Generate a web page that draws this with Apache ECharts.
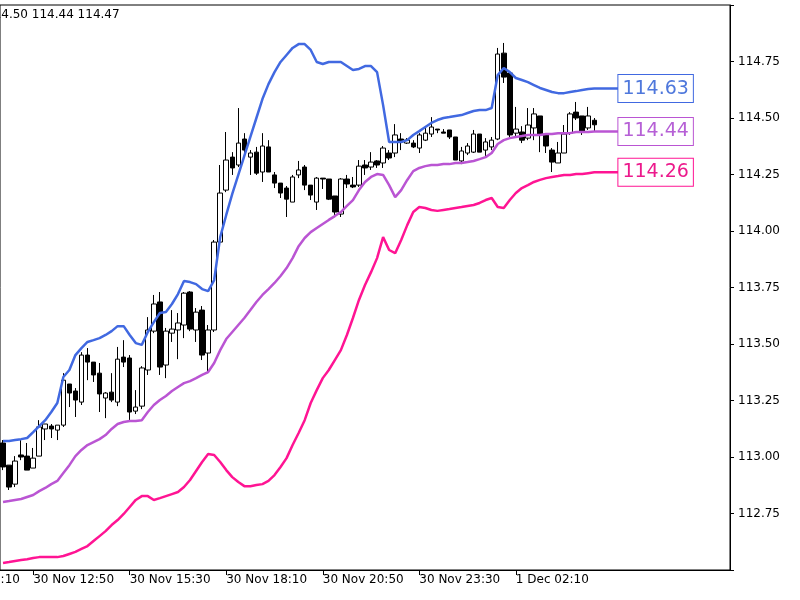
<!DOCTYPE html>
<html><head><meta charset="utf-8">
<script src="https://cdn.jsdelivr.net/npm/echarts@6/dist/echarts.min.js"></script>
<style>html,body{margin:0;padding:0;background:#fff}#c{width:800px;height:600px}</style>
</head><body><div id="c"></div>
<script>
// [open, close, low, high]
const ohlc = [
[113.062,112.956,112.942,113.075],[112.964,112.867,112.854,112.964],[112.880,112.982,112.867,113.004],[113.009,113.000,112.986,113.075],
[113.004,112.942,112.942,113.062],[112.951,112.995,112.951,113.040],[113.004,113.133,113.004,113.163],[113.124,113.146,113.075,113.146],
[113.137,113.124,113.084,113.146],[113.119,113.141,113.075,113.141],[113.141,113.340,113.133,113.371],[113.323,113.283,113.221,113.323],
[113.292,113.252,113.177,113.305],[113.243,113.451,113.230,113.464],[113.451,113.420,113.340,113.482],[113.420,113.363,113.332,113.420],
[113.371,113.279,113.199,113.416],[113.261,113.283,113.172,113.287],[113.287,113.252,113.243,113.371],[113.243,113.433,113.225,113.487],
[113.442,113.420,113.398,113.517],[113.438,113.199,113.159,113.451],[113.203,113.221,113.190,113.296],[113.225,113.394,113.212,113.402],
[113.385,113.562,113.363,113.619],[113.557,113.677,113.548,113.717],[113.686,113.398,113.363,113.730],[113.407,113.557,113.349,113.571],
[113.548,113.566,113.509,113.650],[113.562,113.593,113.433,113.637],[113.584,113.725,113.526,113.730],[113.730,113.566,113.557,113.734],
[113.562,113.641,113.509,113.659],[113.650,113.451,113.429,113.668],[113.460,113.562,113.371,113.584],[113.562,113.951,113.553,113.960],
[113.951,114.168,113.938,114.292],[114.181,114.314,114.172,114.438],[114.327,114.279,114.248,114.349],[114.292,114.389,114.283,114.544],
[114.407,114.358,114.345,114.433],[114.327,114.345,114.248,114.358],[114.349,114.256,114.248,114.372],[114.261,114.376,114.217,114.433],
[114.372,114.261,114.261,114.402],[114.248,114.212,114.190,114.261],[114.212,114.168,114.146,114.212],[114.190,114.141,114.062,114.199],
[114.128,114.239,114.128,114.248],[114.248,114.270,114.234,114.310],[114.283,114.203,114.181,114.292],[114.203,114.159,114.137,114.203],
[114.128,114.234,114.093,114.239],[114.234,114.230,114.186,114.234],[114.230,114.141,114.137,114.230],[114.155,114.084,114.071,114.155],
[114.075,114.230,114.062,114.234],[114.230,114.208,114.190,114.248],[114.203,114.195,114.190,114.239],[114.203,114.287,114.195,114.314],
[114.292,114.279,114.248,114.314],[114.283,114.305,114.270,114.349],[114.310,114.292,114.279,114.314],[114.301,114.367,114.279,114.376],
[114.345,114.323,114.314,114.358],[114.345,114.425,114.327,114.473],[114.407,114.394,114.358,114.433],[114.389,114.402,114.385,114.411],
[114.389,114.372,114.367,114.402],[114.367,114.425,114.345,114.433],[114.402,114.433,114.398,114.460],[114.429,114.460,114.416,114.504],
[114.451,114.447,114.433,114.451],[114.438,114.433,114.433,114.451],[114.447,114.416,114.407,114.447],[114.416,114.314,114.314,114.416],
[114.310,114.354,114.296,114.372],[114.345,114.376,114.336,114.389],[114.349,114.429,114.345,114.447],[114.429,114.349,114.349,114.429],
[114.358,114.394,114.327,114.411],[114.372,114.402,114.358,114.416],[114.407,114.783,114.402,114.810],[114.787,114.681,114.655,114.832],
[114.699,114.425,114.416,114.699],[114.433,114.451,114.416,114.549],[114.438,114.402,114.389,114.464],[114.411,114.469,114.402,114.544],
[114.456,114.518,114.402,114.544],[114.509,114.425,114.349,114.509],[114.429,114.376,114.345,114.429],[114.358,114.305,114.261,114.367],
[114.301,114.345,114.301,114.394],[114.345,114.429,114.345,114.469],[114.433,114.518,114.425,114.526],[114.526,114.500,114.491,114.571],
[114.509,114.438,114.425,114.509],[114.456,114.509,114.447,114.549],[114.490,114.470,114.440,114.500]
];
const upper = [
113.071,113.071,113.075,113.079,113.084,113.110,113.137,113.163,113.199,113.239,
113.354,113.385,113.451,113.482,113.509,113.517,113.526,113.540,113.557,113.579,
113.579,113.540,113.504,113.496,113.553,113.597,113.637,113.642,113.677,113.721,
113.779,113.774,113.765,113.743,113.734,113.783,113.973,114.071,114.164,114.248,
114.332,114.416,114.500,114.584,114.650,114.703,114.748,114.779,114.810,114.827,
114.827,114.801,114.748,114.739,114.748,114.748,114.748,114.730,114.712,114.717,
114.730,114.730,114.703,114.557,114.394,114.394,114.394,114.402,114.425,114.442,
114.460,114.478,114.491,114.500,114.504,114.509,114.513,114.522,114.531,114.535,
114.535,114.544,114.690,114.721,114.703,114.677,114.668,114.659,114.646,114.633,
114.624,114.615,114.610,114.610,114.615,114.619,114.624,114.628,114.630
];
const middle = [
112.801,112.805,112.810,112.814,112.823,112.832,112.849,112.863,112.880,112.894,
112.929,112.964,113.004,113.031,113.053,113.066,113.079,113.097,113.124,113.146,
113.155,113.159,113.159,113.163,113.199,113.230,113.252,113.270,113.292,113.310,
113.327,113.336,113.349,113.363,113.376,113.416,113.473,113.522,113.553,113.584,
113.615,113.650,113.686,113.717,113.743,113.770,113.801,113.836,113.880,113.933,
113.969,113.995,114.013,114.031,114.049,114.066,114.084,114.111,114.137,114.181,
114.217,114.239,114.252,114.248,114.203,114.150,114.181,114.226,114.265,114.279,
114.287,114.292,114.292,114.296,114.296,114.301,114.301,114.305,114.310,114.318,
114.327,114.345,114.385,114.402,114.411,114.416,114.420,114.425,114.425,114.425,
114.429,114.429,114.433,114.433,114.433,114.438,114.438,114.438,114.440
];
const lower = [
112.531,112.535,112.540,112.544,112.548,112.553,112.557,112.557,112.557,112.557,
112.562,112.571,112.580,112.593,112.606,112.628,112.650,112.672,112.699,112.721,
112.748,112.779,112.810,112.827,112.827,112.810,112.818,112.827,112.836,112.845,
112.867,112.898,112.938,112.978,113.013,113.009,112.978,112.942,112.911,112.889,
112.871,112.871,112.876,112.880,112.894,112.920,112.956,112.995,113.053,113.106,
113.163,113.239,113.296,113.349,113.385,113.429,113.473,113.540,113.615,113.695,
113.761,113.818,113.880,113.973,113.916,113.902,113.960,114.026,114.084,114.106,
114.102,114.093,114.089,114.093,114.097,114.102,114.106,114.111,114.115,114.124,
114.137,114.146,114.106,114.102,114.137,114.168,114.190,114.203,114.217,114.226,
114.234,114.239,114.243,114.248,114.248,114.252,114.252,114.256,114.260
];
const tickLabels = ['30 Nov 12:50','30 Nov 15:30','30 Nov 18:10','30 Nov 20:50','30 Nov 23:30','1 Dec 02:10'];
const offLeftLabel = '30 Nov 10:10';
const infoText = '114.50 114.44 114.47';
const yTicks = [112.75,113.00,113.25,113.50,113.75,114.00,114.25,114.50,114.75];

const TOTAL = 121;
const MON = ['Jan','Feb','Mar','Apr','May','Jun','Jul','Aug','Sep','Oct','Nov','Dec'];
const pad = n => (n < 10 ? '0' : '') + n;
const cats = [];
const t0 = Date.UTC(2021, 10, 30, 12, 0);
for (let i = 0; i < TOTAL; i++) {
  const d = new Date(t0 + i * 600000);
  cats.push(d.getUTCDate() + ' ' + MON[d.getUTCMonth()] + ' ' + pad(d.getUTCHours()) + ':' + pad(d.getUTCMinutes()));
}
const EXT = 4;
const extend = a => a.concat(new Array(EXT).fill(a[a.length - 1]));
const FONT = 'DejaVu Sans';
const showAt = (i, v) => tickLabels.indexOf(v) >= 0;

function lineSeries(name, data, color, textColor) {
  return {
    name, type: 'line', data: extend(data), symbol: 'none', z: 5, silent: true,
    lineStyle: { color, width: 2.5 },
    endLabel: {
      show: true, distance: 0, formatter: p => Number(p.value).toFixed(2),
      color: textColor, fontFamily: FONT, fontSize: 19, lineHeight: 22,
      backgroundColor: '#fff', borderColor: color, borderWidth: 1, padding: [3, 4, 2, 4]
    }
  };
}

const chart = echarts.init(document.getElementById('c'), null, { renderer: 'canvas' });
chart.setOption({
  animation: false,
  backgroundColor: '#fff',
  grid: { left: -2, right: 70, top: 5, bottom: 30, show: true, borderColor: '#000', borderWidth: 1, backgroundColor: 'transparent' },
  xAxis: {
    type: 'category', data: cats, boundaryGap: true,
    axisLine: { lineStyle: { color: '#000', width: 1 } },
    axisTick: { show: true, alignWithLabel: true, interval: showAt, length: 5, lineStyle: { color: '#000' } },
    axisLabel: { interval: showAt, align: 'left', margin: 4, fontSize: 12, fontFamily: FONT, color: '#000' },
    splitLine: { show: false }
  },
  yAxis: {
    type: 'value', position: 'right', min: 112.5, max: 115.0, interval: 0.25, scale: true,
    axisLine: { show: true, lineStyle: { color: '#000', width: 1 } },
    axisTick: { show: true, length: 4, lineStyle: { color: '#000' } },
    axisLabel: {
      margin: 8, fontSize: 12, fontFamily: FONT, color: '#000',
      formatter: v => (yTicks.some(t => Math.abs(t - v) < 1e-6) ? v.toFixed(2) : '')
    },
    splitLine: { show: false }
  },
  series: [
    {
      type: 'candlestick', data: ohlc, barWidth: 5, z: 3, silent: true,
      itemStyle: { color: '#ffffff', color0: '#000000', borderColor: '#000000', borderColor0: '#000000', borderWidth: 1 }
    },
    lineSeries('upper', upper, '#4169e1', '#4f78dc'),
    lineSeries('middle', middle, '#ba55d3', '#b660d6'),
    lineSeries('lower', lower, '#ff1493', '#ec1a8c')
  ],
  graphic: [
    { type: 'text', x: -14, y: 15, silent: true, style: { text: infoText, fontSize: 12, fontFamily: FONT, fill: '#000', verticalAlign: 'middle' } },
    { type: 'text', x: -61, y: 574, silent: true, style: { text: offLeftLabel, fontSize: 12, fontFamily: FONT, fill: '#000', verticalAlign: 'top' } }
  ]
});
</script></body></html>
